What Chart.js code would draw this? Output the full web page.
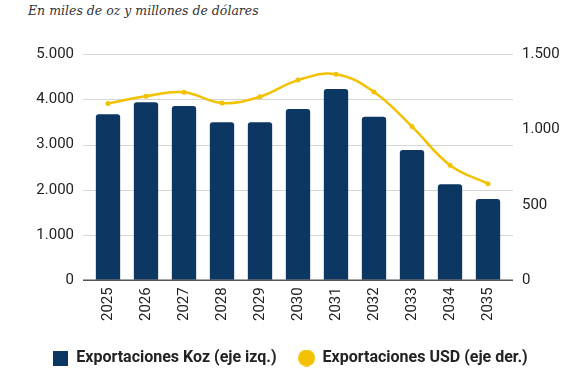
<!DOCTYPE html>
<html><head><meta charset="utf-8">
<script src="https://cdn.jsdelivr.net/npm/chart.js@4.4.1/dist/chart.umd.min.js"></script>
<style>
html,body{margin:0;padding:0;background:#fff;width:588px;height:380px;overflow:hidden}
#sub{position:absolute;left:28px;top:3px;font-family:"DejaVu Serif",serif;font-style:italic;font-size:12.5px;color:#333}
#wrap{position:absolute;left:0;top:30px;width:588px;height:350px}
</style></head><body>
<div id="sub">En miles de oz y millones de dólares</div>
<div id="wrap"><canvas id="c"></canvas></div>
<script>
const years = ["2025","2026","2027","2028","2029","2030","2031","2032","2033","2034","2035"];
const exportKoz = [3670, 3935, 3850, 3490, 3490, 3785, 4225, 3615, 2880, 2120, 1795];
const exportUSD = [1172, 1220, 1246, 1175, 1217, 1327, 1366, 1248, 1019, 763, 640];
const leftTicks = [0, 1000, 2000, 3000, 4000, 5000];
const rightTicks = [0, 500, 1000, 1500];
const fmt = v => v.toLocaleString('de-DE');
const NAVY = '#0d3763', GOLD = '#f2c100';
function marker(kind, color, size) {
  const c = document.createElement('canvas');
  c.width = size; c.height = size;
  const g = c.getContext('2d');
  g.fillStyle = color;
  if (kind === 'circle') { g.beginPath(); g.arc(size/2, size/2, size/2, 0, Math.PI*2); g.fill(); }
  else { g.fillRect(0, 0, size, size); }
  return c;
}
const sqMarker = marker('rect', NAVY, 15);
const ciMarker = marker('circle', GOLD, 17);
const EXT = 6;
const gridPlugin = {
  id: 'extGrid',
  beforeDatasetsDraw(chart) {
    const {ctx, chartArea: a, scales: {y}} = chart;
    ctx.save();
    ctx.strokeStyle = '#d6d6d6'; ctx.lineWidth = 1.2;
    leftTicks.forEach(v => {
      if (v === 0) return;
      const py = Math.round(y.getPixelForValue(v)) + 0.5;
      ctx.beginPath(); ctx.moveTo(a.left - EXT, py); ctx.lineTo(a.right + EXT, py); ctx.stroke();
    });
    ctx.restore();
  },
  afterDatasetsDraw(chart) {
    const {ctx, chartArea: a, scales: {y}} = chart;
    ctx.save();
    ctx.strokeStyle = '#555'; ctx.lineWidth = 1.5;
    const py = y.getPixelForValue(0);
    ctx.beginPath(); ctx.moveTo(a.left - EXT, py); ctx.lineTo(a.right + EXT, py); ctx.stroke();
    ctx.restore();
  }
};
new Chart(document.getElementById('c'), {
  data: {
    labels: years,
    datasets: [
      {type:'line', label:'Exportaciones USD (eje der.)', data: exportUSD, yAxisID:'y1',
       borderColor: GOLD, backgroundColor: GOLD, borderWidth: 2.5, tension: 0.4,
       pointRadius: 2.5, pointBackgroundColor: GOLD, pointBorderWidth: 0, order: 0},
      {type:'bar', label:'Exportaciones Koz (eje izq.)', data: exportKoz, yAxisID:'y',
       backgroundColor: NAVY, borderRadius: {topLeft:3, topRight:3}, borderSkipped: 'bottom',
       categoryPercentage: 1, barPercentage: 0.64, order: 1}
    ]
  },
  plugins: [gridPlugin],
  options: {
    responsive: true, maintainAspectRatio: false, animation: false,
    layout: {padding: {left: 20, right: 28, top: 12, bottom: 4}},
    scales: {
      x: {grid: {display: false, drawTicks: false}, border: {display: false},
          ticks: {color: '#222', font: {family: 'Roboto', size: 15}, maxRotation: 90, minRotation: 90, padding: 7}},
      y: {position: 'left', min: 0, max: 5000, afterBuildTicks: a => { a.ticks = leftTicks.map(v => ({value: v})); },
          afterFit: a => { a.width = 69; },
          grid: {color: 'rgba(0,0,0,0)', tickLength: 8, tickColor: 'rgba(0,0,0,0)'}, border: {display: false},
          ticks: {color: '#222', font: {family: 'Roboto', size: 15}, padding: 7, callback: v => fmt(v)}},
      y1: {position: 'right', min: 0, max: 1500, afterBuildTicks: a => { a.ticks = rightTicks.map(v => ({value: v})); },
          afterFit: a => { a.width = 53; },
          grid: {display: false, drawTicks: false}, border: {display: false},
          ticks: {color: '#222', font: {family: 'Roboto', size: 15}, padding: 15, callback: v => fmt(v)}}
    },
    plugins: {
      legend: {position: 'bottom', reverse: true,
        labels: {color: '#222', font: {family: 'Roboto', size: 16, weight: 'bold'}, usePointStyle: true,
          boxWidth: 16, boxHeight: 16, padding: 22,
          generateLabels: ch => ch.data.datasets.map((d, i) => ({
            text: d.label, fillStyle: d.type === 'bar' ? NAVY : GOLD, strokeStyle: d.type === 'bar' ? NAVY : GOLD,
            lineWidth: 0, pointStyle: d.type === 'bar' ? sqMarker : ciMarker, datasetIndex: i, hidden: false, fontColor: '#222'}))}},
      tooltip: {enabled: false}
    }
  }
});
</script>
</body></html>
